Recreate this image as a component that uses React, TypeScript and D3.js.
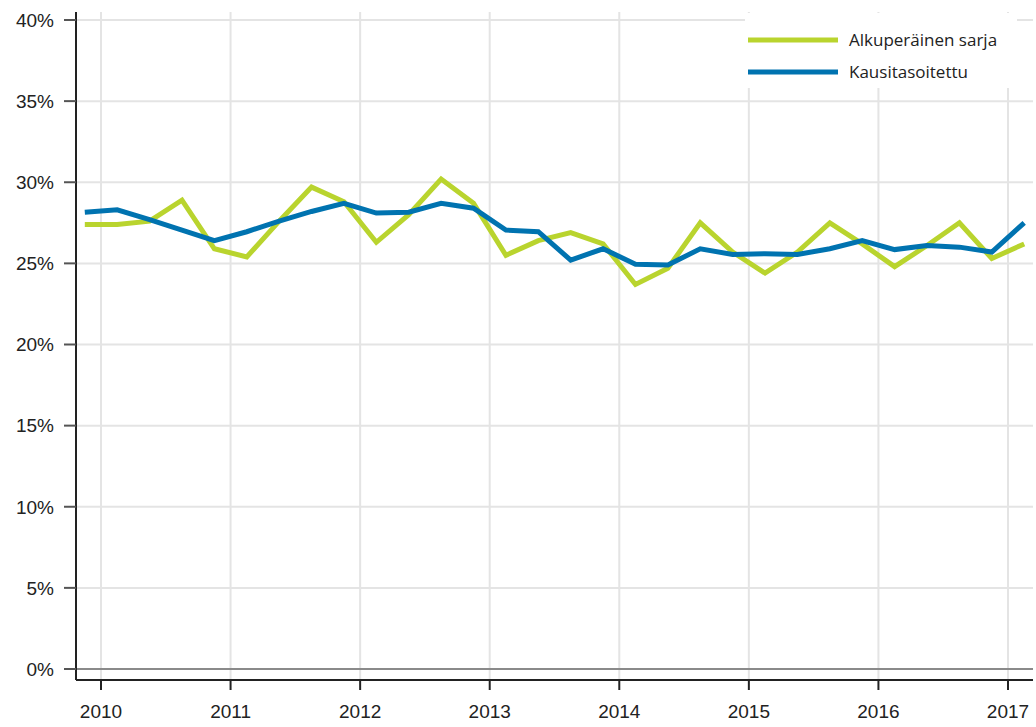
import React from "react";
import { scaleLinear, line } from "d3";

// quarterly data, 2009Q4 .. 2017Q1
const quarters = [
  "2009Q4",
  "2010Q1", "2010Q2", "2010Q3", "2010Q4",
  "2011Q1", "2011Q2", "2011Q3", "2011Q4",
  "2012Q1", "2012Q2", "2012Q3", "2012Q4",
  "2013Q1", "2013Q2", "2013Q3", "2013Q4",
  "2014Q1", "2014Q2", "2014Q3", "2014Q4",
  "2015Q1", "2015Q2", "2015Q3", "2015Q4",
  "2016Q1", "2016Q2", "2016Q3", "2016Q4",
  "2017Q1",
];
const original = [
  27.4, 27.4, 27.6, 28.9, 25.9, 25.4, 27.6, 29.7, 28.8, 26.3,
  28.0, 30.2, 28.7, 25.5, 26.4, 26.9, 26.2, 23.7, 24.7, 27.5,
  25.7, 24.4, 25.7, 27.5, 26.2, 24.8, 26.1, 27.5, 25.3, 26.2,
];
const seasonal = [
  28.15, 28.3, 27.7, 27.05, 26.4, 26.95, 27.6, 28.2, 28.7, 28.1,
  28.15, 28.7, 28.4, 27.05, 26.95, 25.2, 25.9, 24.95, 24.9, 25.9,
  25.55, 25.6, 25.55, 25.9, 26.4, 25.85, 26.1, 26.0, 25.7, 27.5,
];
const yearTicks = [2010, 2011, 2012, 2013, 2014, 2015, 2016, 2017];
const yTicks = [0, 5, 10, 15, 20, 25, 30, 35, 40];
const seriesNames = ["Alkuperäinen sarja", "Kausitasoitettu"];
const seriesColors = ["#b9d42e", "#0073b0"];

// quarter midpoint as fractional year
const qTime = (q: string) => +q.slice(0, 4) + (+q.slice(5) - 1) / 4 + 0.125;

export default function App() {
  const width = 1036;
  const height = 727;
  const left = 76;
  const right = 1033;
  const axisY = 680;

  const x = scaleLinear().domain([2010, 2017]).range([101, 1008]);
  const y = scaleLinear().domain([0, 40]).range([669, 20]);

  const path = line<number>()
    .x((_, i) => x(qTime(quarters[i])))
    .y((d) => y(d));

  const tickFont = "'Liberation Sans', Arial, sans-serif";

  return (
    <svg
      width={width}
      height={height}
      style={{ position: "absolute", left: 0, top: 0, background: "#fff" }}
    >
      {/* grid */}
      {yTicks.filter((t) => t > 0).map((t) => (
        <line key={"gy" + t} x1={left} x2={right} y1={y(t)} y2={y(t)} stroke="#e4e4e4" strokeWidth={2} />
      ))}
      {yearTicks.map((t) => (
        <line key={"gx" + t} x1={x(t)} x2={x(t)} y1={12} y2={axisY} stroke="#e4e4e4" strokeWidth={2} />
      ))}
      {/* zero line */}
      <line x1={left} x2={right} y1={y(0)} y2={y(0)} stroke="#8a8a8a" strokeWidth={2} />

      {/* series */}
      {[original, seasonal].map((s, k) => (
        <path
          key={k}
          d={path(s) || ""}
          fill="none"
          stroke={seriesColors[k]}
          strokeWidth={5}
          strokeLinejoin="miter"
        />
      ))}

      {/* legend */}
      <rect x={745} y={13} width={272} height={75} fill="#fff" />
      {seriesNames.map((n, k) => (
        <g key={n}>
          <line x1={748} x2={838} y1={40 + k * 32} y2={40 + k * 32} stroke={seriesColors[k]} strokeWidth={5} />
          <text
            x={849}
            y={40 + k * 32}
            dy="0.35em"
            fontFamily="'Open Sans', sans-serif"
            fontSize={17}
            fill="#222"
          >
            {n}
          </text>
        </g>
      ))}

      {/* y axis */}
      <line x1={left} x2={left} y1={12} y2={axisY} stroke="#222" strokeWidth={2} />
      {yTicks.map((t) => (
        <g key={"yt" + t}>
          <line x1={64} x2={left} y1={y(t)} y2={y(t)} stroke="#555" strokeWidth={2} />
          <text
            x={54}
            y={y(t)}
            dy="0.36em"
            textAnchor="end"
            fontFamily={tickFont}
            fontSize={19}
            fill="#222"
          >
            {t + "%"}
          </text>
        </g>
      ))}

      {/* x axis */}
      <line x1={left} x2={right} y1={axisY} y2={axisY} stroke="#222" strokeWidth={2} />
      {yearTicks.map((t) => (
        <g key={"xt" + t}>
          <line x1={x(t)} x2={x(t)} y1={axisY} y2={690} stroke="#222" strokeWidth={2} />
          <text
            x={x(t)}
            y={718}
            textAnchor="middle"
            fontFamily={tickFont}
            fontSize={19}
            fill="#222"
          >
            {t}
          </text>
        </g>
      ))}
    </svg>
  );
}
